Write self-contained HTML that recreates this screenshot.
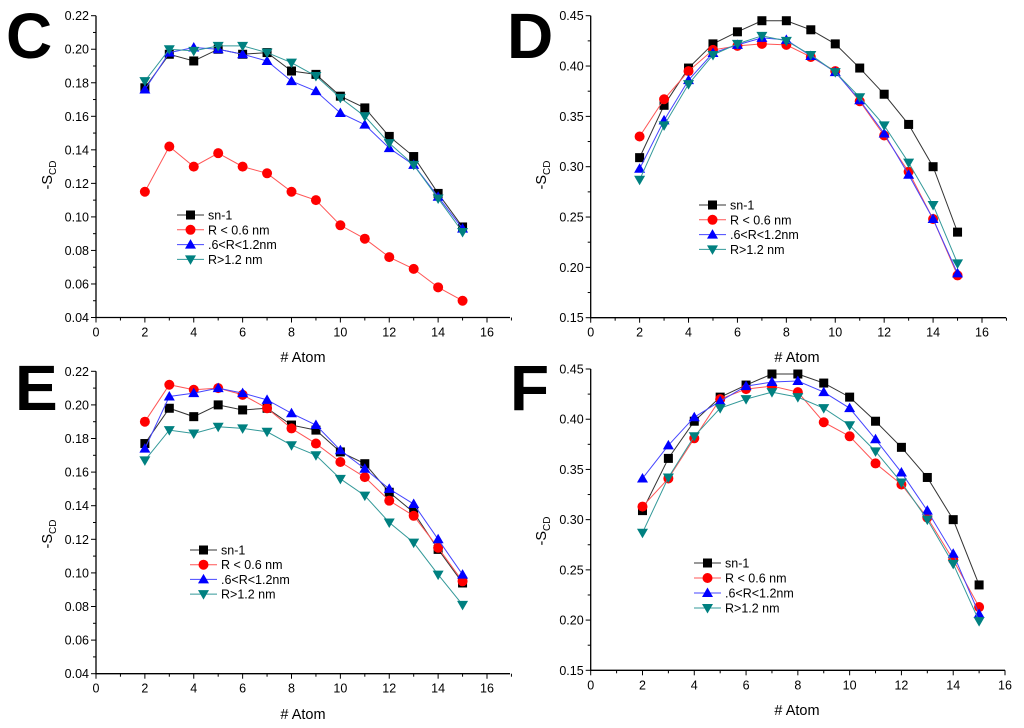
<!DOCTYPE html>
<html><head><meta charset="utf-8"><style>
html,body{margin:0;padding:0;background:#fff;}
svg{display:block;font-family:"Liberation Sans",sans-serif;}
</style></head><body>
<svg id="fig" width="1024" height="728" viewBox="0 0 1024 728" xmlns="http://www.w3.org/2000/svg"></svg>
<script>
const atoms = [2,3,4,5,6,7,8,9,10,11,12,13,14,15];
const seriesNames = ["sn-1","R < 0.6 nm",".6<R<1.2nm","R>1.2 nm"];
const C_sn1 = [.177,.197,.193,.200,.197,.198,.187,.185,.172,.165,.148,.136,.114,.094];
const C_r06 = [.115,.142,.130,.138,.130,.126,.115,.110,.095,.087,.076,.069,.058,.050];
const C_mid = [.176,.198,.201,.200,.197,.193,.181,.175,.162,.155,.141,.131,.112,.093];
const C_far = [.181,.200,.199,.202,.202,.198,.192,.184,.171,.160,.144,.131,.111,.091];
const D_sn1 = [.309,.361,.398,.422,.434,.445,.445,.436,.422,.398,.372,.342,.300,.235];
const D_r06 = [.330,.367,.395,.416,.420,.422,.421,.409,.395,.365,.331,.295,.248,.192];
const D_mid = [.298,.346,.386,.413,.421,.428,.426,.410,.394,.366,.333,.292,.248,.194];
const D_far = [.287,.341,.382,.411,.422,.430,.425,.411,.394,.369,.341,.304,.262,.204];
const E_sn1 = [.177,.198,.193,.200,.197,.198,.188,.185,.172,.165,.148,.136,.114,.094];
const E_r06 = [.190,.212,.209,.210,.206,.198,.186,.177,.166,.157,.143,.134,.115,.095];
const E_mid = [.174,.205,.207,.210,.207,.203,.195,.188,.173,.162,.150,.141,.120,.099];
const E_far = [.167,.185,.183,.187,.186,.184,.176,.170,.156,.146,.130,.118,.099,.081];
const F_sn1 = [.309,.361,.398,.422,.434,.445,.445,.436,.422,.398,.372,.342,.300,.235];
const F_r06 = [.313,.341,.381,.420,.430,.433,.427,.397,.383,.356,.335,.302,.260,.213];
const F_mid = [.341,.374,.402,.418,.433,.437,.438,.427,.411,.380,.347,.309,.266,.206];
const F_far = [.287,.342,.383,.411,.420,.427,.422,.411,.394,.368,.337,.300,.256,.199];
const xTicks = [0,2,4,6,8,10,12,14,16];
const yTicksLow = [0.04,0.06,0.08,0.10,0.12,0.14,0.16,0.18,0.20,0.22];
const yTicksHigh = [0.15,0.20,0.25,0.30,0.35,0.40,0.45];

const NS="http://www.w3.org/2000/svg";
const svg=document.getElementById('fig');
function mk(tag,attrs,parent){const e=document.createElementNS(NS,tag);for(const k in attrs)e.setAttribute(k,attrs[k]);(parent||svg).appendChild(e);return e;}
const colors=["#000000","#ff0000","#0000ff","#008080"];
const lineColors=["#333333","#ff5555","#4444ff","#339999"];

function marker(g,kind,x,y,c){
  let m;
  if(kind===0) m=mk('rect',{x:x-4.5,y:y-4.5,width:9,height:9,fill:c},g);
  else if(kind===1) m=mk('circle',{cx:x,cy:y,r:5,fill:c},g);
  else if(kind===2) m=mk('polygon',{points:`${x},${y-5.5} ${x+5.5},${y+4} ${x-5.5},${y+4}`,fill:c},g);
  else m=mk('polygon',{points:`${x},${y+5.5} ${x+5.5},${y-4} ${x-5.5},${y-4}`,fill:c},g);
  return m;
}

function panel(p){
  const g=mk('g',{});
  
  
  const X=v=>p.x0+(v-0)*(p.x16-p.x0)/16;
  const Y=v=>p.yb-(v-p.ymin)*(p.yb-p.yt)/(p.ymax-p.ymin);
  // letter
  const L=mk('text',{x:p.lx,y:p.ly,'font-size':64,'font-weight':'bold',fill:'#000'},g);
  L.textContent=p.id;
  
  
  // axes
  const ax=mk('path',{d:`M${p.x0},${p.yt} V${p.yb} H${p.xend}`,stroke:'#000','stroke-width':1.3,fill:'none'},g);
  
  
  // x ticks
  for(let v=0;v<=p.xmaxTick;v++){
    const major=v%2===0;
    mk('line',{x1:X(v),x2:X(v),y1:p.yb,y2:p.yb+(major?5:3),stroke:'#000','stroke-width':1},g);
  }
  xTicks.forEach(v=>{
    const t=mk('text',{x:X(v),y:p.yb+19,'font-size':12.5,'text-anchor':'middle',fill:'#000'},g);
    t.textContent=v;
    
    
  });
  // y ticks
  const yt=p.yticks, step=yt[1]-yt[0];
  for(let i=0;i<yt.length;i++){
    const v=yt[i];
    mk('line',{x1:p.x0-5,x2:p.x0,y1:Y(v),y2:Y(v),stroke:'#000','stroke-width':1},g);
    if(i<yt.length-1) mk('line',{x1:p.x0-3,x2:p.x0,y1:Y(v+step/2),y2:Y(v+step/2),stroke:'#000','stroke-width':1},g);
    const t=mk('text',{x:p.x0-7,y:Y(v)+4.5,'font-size':12.5,'text-anchor':'end',fill:'#000'},g);
    t.textContent=v.toFixed(2);
    
    
  }
  // axis titles
  const xl=mk('text',{x:p.xlx,y:p.xly,'font-size':14.5,'text-anchor':'middle',fill:'#000'},g);
  xl.textContent='# Atom';
  
  
  const yl=mk('text',{transform:`translate(${p.ylx},${p.yly}) rotate(-90)`,'font-size':14.5,'text-anchor':'middle',fill:'#000'},g);
  yl.innerHTML='-S<tspan font-size="10" dy="4">CD</tspan>';
  
  
  // series
  p.series.forEach((s,k)=>{
    const sg=mk('g',{},g);
    
    
    const pl=mk('polyline',{points:atoms.map((a,i)=>X(a)+','+Y(s[i])).join(' '),fill:'none',stroke:lineColors[k],'stroke-width':1},sg);
    
    
    atoms.forEach((a,i)=>{
      const m=marker(sg,k,X(a),Y(s[i]),colors[k]);
      
      
    });
  });
  // legend
  const lg=mk('g',{},g);
  
  
  seriesNames.forEach((n,k)=>{
    const y=p.legY+k*p.legDy;
    const e=mk('g',{},lg);
    
    
    mk('line',{x1:p.legX,x2:p.legX+27,y1:y,y2:y,stroke:lineColors[k],'stroke-width':1},e);
    marker(e,k,p.legX+13.5,y,colors[k]);
    const t=mk('text',{x:p.legX+31,y:y+4.5,'font-size':12.5,fill:'#000'},e);
    t.textContent=n;
  });
}

panel({id:'C',x0:96,x16:487,xend:510,xmaxTick:17,yt:15.7,yb:317.5,ymin:0.04,ymax:0.22,yticks:yTicksLow,
  lx:6,ly:58,xlx:303,xly:362,ylx:52,yly:175,legX:177,legY:215,legDy:14.8,series:[C_sn1,C_r06,C_mid,C_far]});
panel({id:'D',x0:590.7,x16:982,xend:1006,xmaxTick:17,yt:15.7,yb:317.7,ymin:0.15,ymax:0.45,yticks:yTicksHigh,
  lx:507,ly:58,xlx:797,xly:362,ylx:546,yly:175,legX:699,legY:205,legDy:14.8,series:[D_sn1,D_r06,D_mid,D_far]});
panel({id:'E',x0:96,x16:487,xend:510,xmaxTick:17,yt:371.3,yb:673.7,ymin:0.04,ymax:0.22,yticks:yTicksLow,
  lx:15,ly:410,xlx:303,xly:719,ylx:52,yly:534,legX:190,legY:550,legDy:14.7,series:[E_sn1,E_r06,E_mid,E_far]});
panel({id:'F',x0:590.7,x16:1005,xend:1005,xmaxTick:16,yt:369,yb:670.3,ymin:0.15,ymax:0.45,yticks:yTicksHigh,
  lx:510,ly:410,xlx:797,xly:715,ylx:546,yly:531,legX:694,legY:563,legDy:15,series:[F_sn1,F_r06,F_mid,F_far]});
</script>
</body></html>
